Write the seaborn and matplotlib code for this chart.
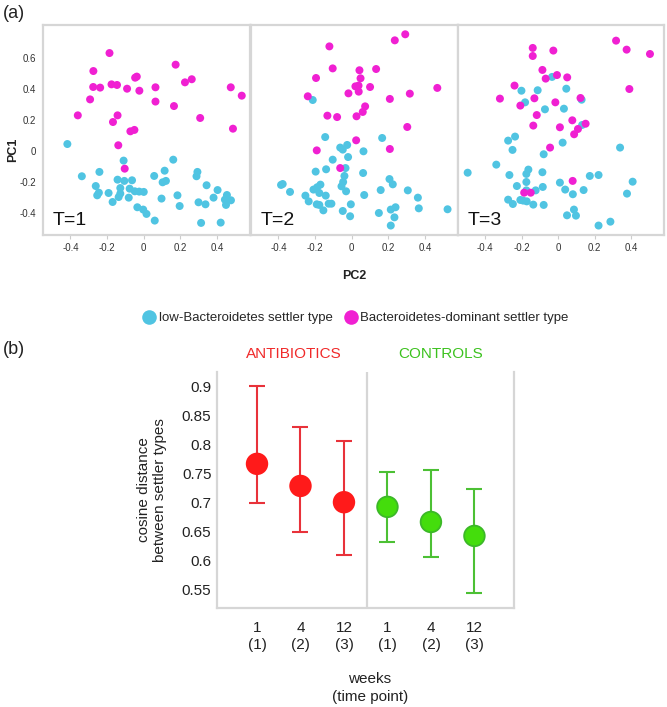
import matplotlib
matplotlib.use("Agg")
import matplotlib.pyplot as plt
import seaborn as sns
import pandas as pd
from matplotlib.lines import Line2D

sns.set_theme(style="white")
plt.rcParams['font.family'] = ['Liberation Sans', 'DejaVu Sans']

# ---------------- data: panel (a) ----------------
t1_dom_x = [-0.187, -0.275, 0.174, -0.276, -0.238, -0.176, -0.146, -0.091, -0.047, -0.038, -0.024, 0.064,
            0.225, 0.262, 0.475, 0.535, -0.293, 0.064, 0.165, 0.308, -0.360, -0.143, -0.168, -0.051, -0.073,
            0.487, -0.139, -0.104]
t1_dom_y = [0.634, 0.518, 0.559, 0.415, 0.411, 0.432, 0.428, 0.404, 0.475, 0.482, 0.391, 0.413,
            0.445, 0.465, 0.413, 0.359, 0.335, 0.321, 0.292, 0.215, 0.232, 0.232, 0.189, 0.138, 0.129,
            0.146, 0.039, -0.112]
t1_low_x = [-0.417, -0.110, 0.161, -0.338, -0.242, -0.262, -0.143, -0.106, -0.064, 0.057, 0.114, 0.103,
            0.121, 0.293, 0.288, 0.343, -0.245, -0.192, -0.254, -0.128, -0.128, -0.137, -0.170, -0.082,
            -0.077, -0.049, -0.025, 0.000, -0.035, -0.003, 0.015, 0.097, 0.184, 0.196, 0.060, 0.299,
            0.337, 0.381, 0.403, 0.454, 0.443, 0.449, 0.476, 0.313, 0.420]
t1_low_y = [0.047, -0.060, -0.054, -0.161, -0.133, -0.224, -0.183, -0.191, -0.187, -0.159, -0.125, -0.200,
            -0.191, -0.133, -0.161, -0.219, -0.267, -0.269, -0.284, -0.237, -0.273, -0.295, -0.327, -0.299,
            -0.241, -0.258, -0.260, -0.262, -0.361, -0.376, -0.404, -0.305, -0.284, -0.353, -0.447, -0.329,
            -0.342, -0.299, -0.250, -0.282, -0.312, -0.346, -0.316, -0.462, -0.460]

t2_dom_x = [0.292, 0.235, -0.122, -0.104, 0.042, 0.133, -0.195, 0.048, 0.020, 0.037, 0.100, -0.018, 0.038,
            -0.240, 0.467, 0.208, 0.317, 0.073, 0.060, -0.133, -0.080, 0.026, 0.303, 0.024, -0.191, 0.208,
            -0.063]
t2_dom_y = [0.755, 0.716, 0.677, 0.535, 0.523, 0.531, 0.473, 0.471, 0.419, 0.424, 0.415, 0.374, 0.385,
            0.355, 0.409, 0.338, 0.372, 0.290, 0.254, 0.230, 0.221, 0.226, 0.157, 0.071, 0.006, 0.015,
            -0.108]
t2_low_x = [-0.213, -0.145, 0.166, -0.063, -0.049, -0.025, 0.064, -0.020, -0.104, -0.034, -0.197, -0.140,
            -0.040, 0.062, 0.206, 0.224, -0.386, -0.377, -0.337, -0.171, -0.189, -0.209, -0.177, -0.253,
            -0.142, -0.056, -0.047, -0.031, 0.068, 0.158, 0.306, 0.361, 0.366, 0.523, -0.235, -0.191,
            -0.177, -0.126, -0.111, -0.155, -0.049, -0.005, -0.009, 0.148, 0.213, 0.239, 0.233, 0.213]
t2_low_y = [0.331, 0.092, 0.086, 0.024, 0.011, 0.041, 0.000, -0.037, -0.054, -0.108, -0.131, -0.116,
            -0.159, -0.140, -0.179, -0.213, -0.217, -0.211, -0.262, -0.215, -0.232, -0.247, -0.269, -0.286,
            -0.286, -0.226, -0.198, -0.258, -0.282, -0.250, -0.252, -0.299, -0.368, -0.374, -0.323, -0.342,
            -0.346, -0.338, -0.338, -0.381, -0.385, -0.342, -0.419, -0.398, -0.376, -0.361, -0.426, -0.479]

t3_dom_x = [0.317, 0.375, 0.503, -0.140, -0.140, -0.027, -0.087, -0.069, -0.007, 0.049, -0.240, -0.320,
            -0.131, -0.208, -0.016, 0.122, 0.390, -0.118, 0.077, -0.137, 0.009, 0.108, 0.150, 0.087,
            -0.045, 0.079, -0.187, -0.151]
t3_dom_y = [0.714, 0.656, 0.628, 0.667, 0.615, 0.650, 0.525, 0.469, 0.492, 0.477, 0.424, 0.340,
            0.342, 0.295, 0.316, 0.344, 0.402, 0.234, 0.200, 0.166, 0.155, 0.144, 0.178, 0.110,
            0.024, -0.191, -0.267, -0.267]
t3_low_x = [-0.034, -0.202, -0.113, 0.044, -0.182, 0.128, -0.073, 0.031, 0.131, -0.237, -0.275, -0.251,
            0.024, 0.339, -0.080, -0.340, -0.497, -0.268, -0.164, -0.175, -0.087, -0.175, -0.227, -0.124,
            -0.175, -0.085, 0.009, 0.038, 0.080, 0.139, 0.173, 0.221, 0.408, 0.377, -0.275, -0.249,
            -0.208, -0.193, -0.173, -0.137, -0.080, 0.086, 0.048, 0.097, 0.286, 0.221]
t3_low_y = [0.480, 0.391, 0.394, 0.404, 0.316, 0.333, 0.271, 0.275, 0.170, 0.095, 0.069, 0.009,
            0.056, 0.024, -0.019, -0.086, -0.138, -0.153, -0.118, -0.146, -0.135, -0.198, -0.224, -0.252,
            -0.252, -0.230, -0.202, -0.247, -0.277, -0.250, -0.159, -0.153, -0.196, -0.273, -0.312, -0.340,
            -0.314, -0.318, -0.323, -0.344, -0.346, -0.376, -0.413, -0.415, -0.454, -0.479]

time_labels = ["T=1", "T=2", "T=3"]
type_names = ["low-Bacteroidetes settler type", "Bacteroidetes-dominant settler type"]
pc_ticks_x = [-0.4, -0.2, 0, 0.2, 0.4]
pc_ticks_y = [-0.4, -0.2, 0, 0.2, 0.4, 0.6]

# ---------------- data: panel (b) ----------------
groups = ["ANTIBIOTICS", "CONTROLS"]
week_labels = ["1\n(1)", "4\n(2)", "12\n(3)", "1\n(1)", "4\n(2)", "12\n(3)"]
cos_mean = [0.767, 0.729, 0.701, 0.693, 0.667, 0.643]
cos_upper = [0.901, 0.831, 0.806, 0.753, 0.757, 0.723]
cos_lower = [0.700, 0.650, 0.610, 0.633, 0.607, 0.544]
b_ticks = [0.55, 0.6, 0.65, 0.7, 0.75, 0.8, 0.85, 0.9]

# ---------------- styling ----------------
CYAN = "#50c4e2"
MAGENTA = "#f020d2"
SPINE = "#d6d6d6"
RED = "#ff1a1a"
RED_BAR = "#e8323a"
GREEN = "#44dd0c"
GREEN_EDGE = "#3cb828"
GREEN_BAR = "#4cc034"
TXT = "#222222"

W, H = 667, 707
fig = plt.figure(figsize=(W / 100, H / 100), dpi=100)

def fx(px):
    return px / W

def fy(py):
    return 1 - py / H

panel_data = [
    (t1_low_x, t1_low_y, t1_dom_x, t1_dom_y),
    (t2_low_x, t2_low_y, t2_dom_x, t2_dom_y),
    (t3_low_x, t3_low_y, t3_dom_x, t3_dom_y),
]
lefts = [43, 251, 458]
rights = [250, 458, 664]
top_px, bot_px = 25, 235
narrow = ['Liberation Sans Narrow', 'Liberation Sans', 'DejaVu Sans']

for i, (lx, ly, dx, dy) in enumerate(panel_data):
    ax = fig.add_axes([fx(lefts[i]), fy(bot_px), (rights[i] - lefts[i]) / W, (bot_px - top_px) / H])
    df = pd.DataFrame({
        "PC2": list(lx) + list(dx),
        "PC1": list(ly) + list(dy),
        "type": [type_names[0]] * len(lx) + [type_names[1]] * len(dx),
    })
    sns.scatterplot(data=df, x="PC2", y="PC1", hue="type",
                    palette={type_names[0]: CYAN, type_names[1]: MAGENTA},
                    s=33, linewidth=0, ax=ax, legend=False, zorder=3)
    ax.set_xlim(-0.55, 0.58)
    ax.set_ylim(-0.54, 0.815)
    ax.set_xticks(pc_ticks_x)
    ax.set_xticklabels(["-0.4", "-0.2", "0", "0.2", "0.4"], fontsize=7, color="#333333", family=narrow)
    ax.tick_params(axis="x", length=3, width=0.8, color="#cccccc", pad=3, bottom=True)
    if i == 0:
        ax.set_yticks(pc_ticks_y)
        ax.set_yticklabels(["-0.4", "-0.2", "0", "0.2", "0.4", "0.6"], fontsize=7, color="#333333", family=narrow)
        ax.tick_params(axis="y", length=0, pad=5)
    else:
        ax.set_yticks([])
    ax.set_xlabel("")
    ax.set_ylabel("")
    for sp in ax.spines.values():
        sp.set_color(SPINE)
        sp.set_linewidth(1.6)
    ax.text(0.045, 0.03, time_labels[i], transform=ax.transAxes, fontsize=14,
            color="#111111", ha="left", va="bottom")

fig.text(fx(13), fy(150), "PC1", rotation=90, fontsize=9, fontweight="bold",
         ha="center", va="center", color=TXT)
fig.text(fx(354), fy(276), "PC2", fontsize=9, fontweight="bold",
         ha="center", va="center", color=TXT)
fig.text(fx(3), fy(14), "(a)", fontsize=13, ha="left", va="center", color=TXT)

handles = [Line2D([0], [0], marker="o", linestyle="", markersize=10.5, markerfacecolor=CYAN,
                  markeredgewidth=0),
           Line2D([0], [0], marker="o", linestyle="", markersize=10.5, markerfacecolor=MAGENTA,
                  markeredgewidth=0)]
fig.legend(handles, type_names, loc="center", bbox_to_anchor=(fx(355), fy(318)), ncol=2,
           frameon=False, fontsize=9.5, handletextpad=0.1, columnspacing=0.8, handlelength=1.2)

# ---------------- panel (b) ----------------
axb = fig.add_axes([fx(217), fy(608), (514 - 217) / W, (608 - 372) / H])
pos = list(range(len(cos_mean)))
dfb = pd.DataFrame({"pos": pos, "mean": cos_mean,
                    "group": [groups[0]] * 3 + [groups[1]] * 3})
for g, bar_c in zip(groups, [RED_BAR, GREEN_BAR]):
    sub = dfb[dfb["group"] == g]
    idx = sub.index
    lo = [cos_mean[k] - cos_lower[k] for k in idx]
    hi = [cos_upper[k] - cos_mean[k] for k in idx]
    axb.errorbar(sub["pos"], sub["mean"], yerr=[lo, hi], fmt="none", ecolor=bar_c,
                 elinewidth=1.5, capsize=5.5, capthick=1.5, zorder=2)
sns.scatterplot(data=dfb, x="pos", y="mean", hue="group",
                palette={groups[0]: RED, groups[1]: GREEN}, s=220,
                edgecolor=[RED, RED, RED, GREEN_EDGE, GREEN_EDGE, GREEN_EDGE],
                linewidth=1.3, legend=False, ax=axb, zorder=3)
axb.set_xlim(-0.92, 5.91)
axb.set_ylim(0.519, 0.925)
axb.axvline(2.53, color=SPINE, lw=1.6, zorder=1)
axb.set_yticks(b_ticks)
axb.set_yticklabels(["0.55", "0.6", "0.65", "0.7", "0.75", "0.8", "0.85", "0.9"],
                    fontsize=11, color=TXT)
axb.set_xticks(pos)
axb.set_xticklabels(week_labels, fontsize=11, color=TXT, linespacing=1.3)
axb.tick_params(axis="both", length=0)
axb.tick_params(axis="x", pad=9)
axb.tick_params(axis="y", pad=4)
axb.set_xlabel("")
axb.set_ylabel("")
for name, sp in axb.spines.items():
    sp.set_color(SPINE)
    sp.set_linewidth(1.6)
axb.spines["top"].set_visible(False)

fig.text(fx(294), fy(354), groups[0], fontsize=11, color="#f02a2a", ha="center", va="center")
fig.text(fx(441), fy(354), groups[1], fontsize=11, color="#3cc21e", ha="center", va="center")
fig.text(fx(152), fy(490), "cosine distance\nbetween settler types", rotation=90, fontsize=11,
         ha="center", va="center", color=TXT, linespacing=1.25)
fig.text(fx(370), fy(688), "weeks\n(time point)", fontsize=11, ha="center", va="center",
         color=TXT, linespacing=1.3)
fig.text(fx(3), fy(350), "(b)", fontsize=13, ha="left", va="center", color=TXT)

fig.savefig("out.png", dpi=100)
